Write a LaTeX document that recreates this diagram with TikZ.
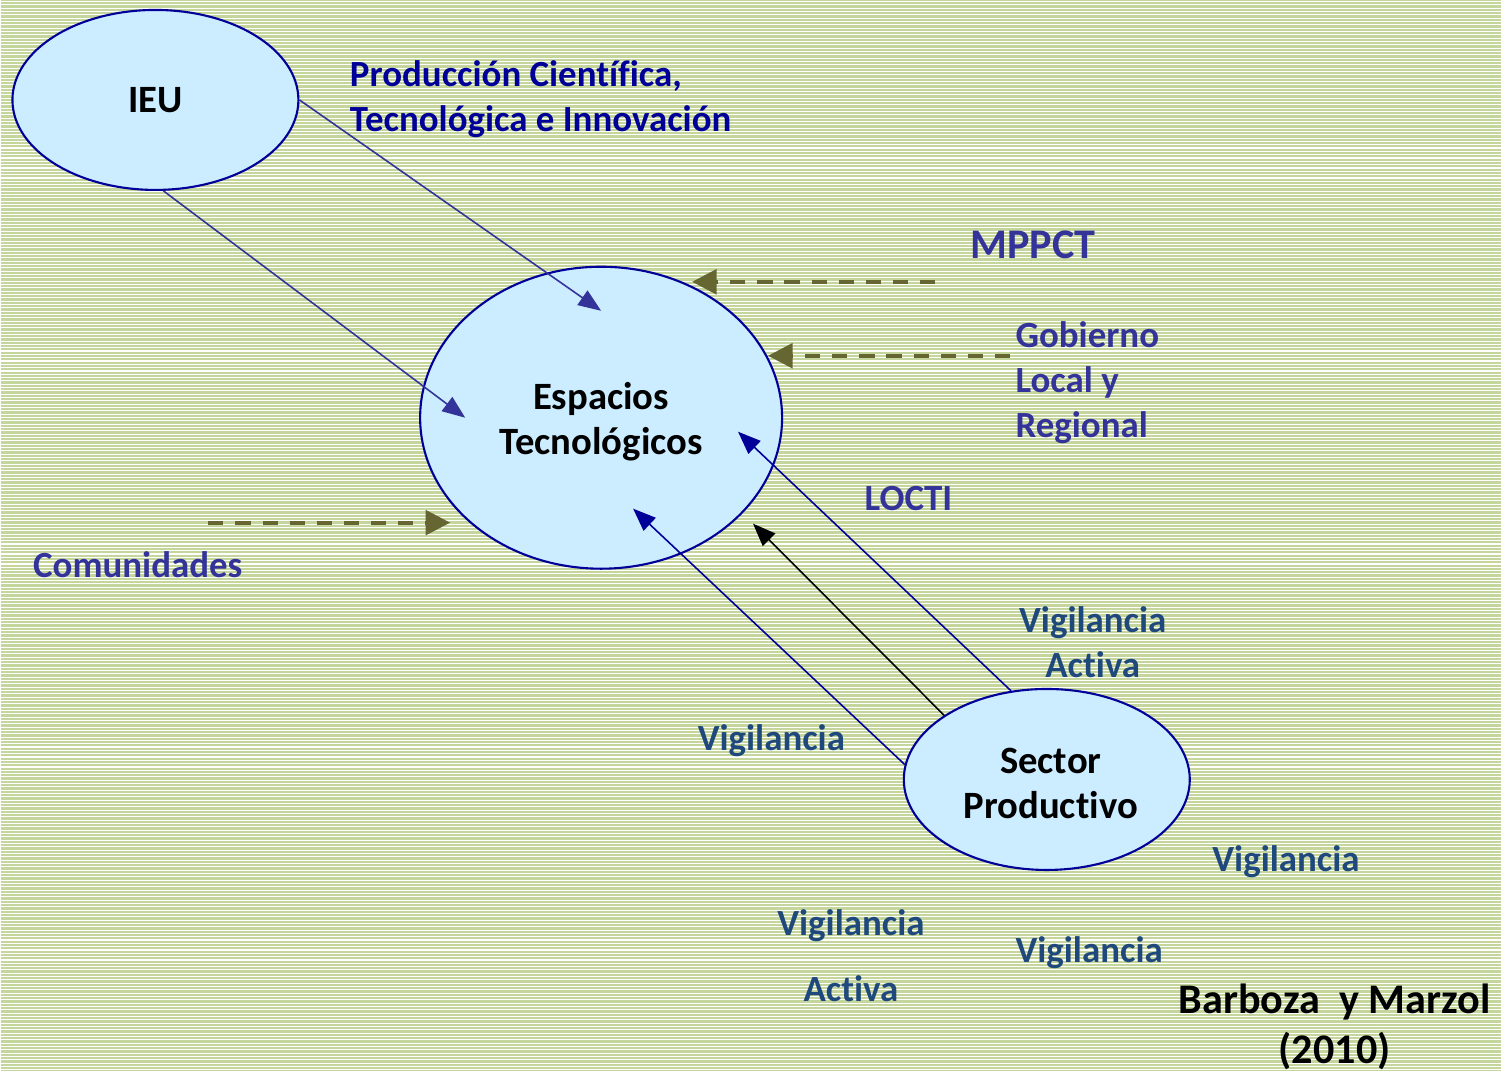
\documentclass[tikz,border=0pt]{standalone}
\usepackage{fontspec}
\setmainfont{Carlito}[Ligatures=NoCommon]
\usetikzlibrary{arrows.meta,shapes.geometric}

\definecolor{bggreen}{HTML}{C4D69B}
\definecolor{bubble}{HTML}{CCECFF}
\definecolor{rim}{HTML}{000099}
\definecolor{labblue}{HTML}{333399}
\definecolor{vigblue}{HTML}{1F497D}
\definecolor{olive}{HTML}{666633}

\begin{document}
\begin{tikzpicture}[x=0.01cm, y=-0.01cm,
  blob/.style={ellipse, draw=rim, line width=0.6pt, fill=bubble, inner sep=0pt, align=center, font=\fontsize{11}{12.8}\selectfont\bfseries},
  lab/.style={anchor=west, inner sep=0pt, text=labblue, align=left, font=\fontsize{10.5}{12.8}\selectfont\bfseries},
  vig/.style={inner sep=0pt, text=vigblue, align=center, font=\fontsize{10.5}{12.8}\selectfont\bfseries},
  link/.style={draw=#1, line width=0.45pt, -{Triangle[length=6.5pt,width=5pt]}},
  feed/.style={draw=olive, line width=1.1pt, dash pattern=on 4.3pt off 3.4pt, -{Triangle[length=7pt,width=7pt]}}]
  % background with thin white stripes
  \fill[bggreen] (0,0) rectangle (1501,1072);
  \foreach \y in {1.6,4.93,...,1072}
    \draw[white, line width=0.3pt] (0,\y) -- (1501,\y);
  \useasboundingbox (0,0) rectangle (1501,1072);

  % ellipses
  \node[blob, minimum width=2.86cm, minimum height=1.80cm] (ieu) at (155,100) {IEU};
  \node[blob, minimum width=3.62cm, minimum height=3.02cm] (esp) at (601,418) {};
  \node[blob, minimum width=2.86cm, minimum height=1.81cm] (sp) at (1047,780) {};
  \node[inner sep=0pt, align=center, font=\fontsize{11}{12.8}\selectfont\bfseries] (esptxt) at (601,422) {Espacios\\Tecnológicos};
  \node[inner sep=0pt, align=center, font=\fontsize{11}{12.8}\selectfont\bfseries] (sptxt) at (1051,784) {Sector\\Productivo};

  % labels
  \node[lab, text=rim] (prod) at (349,99) {Producción Científica,\\Tecnológica e Innovación};
  \node[lab, font=\fontsize{12}{14}\selectfont\bfseries] (mppct) at (970,245) {MPPCT};
  \node[lab] (gob) at (1015,383) {Gobierno\\Local y\\Regional};
  \node[lab] (locti) at (864,499) {LOCTI};
  \node[lab] (com) at (32,565) {Comunidades};
  \node[vig] (va1) at (1093,643) {Vigilancia\\Activa};
  \node[vig, anchor=west] (v1) at (697,741) {Vigilancia};
  \node[vig, anchor=west] (v2) at (1212,862) {Vigilancia};
  \node[vig] (va2) at (851,956) {Vigilancia\\[6pt]Activa};
  \node[vig, anchor=west] (v3) at (1015,953) {Vigilancia};
  \node[inner sep=0pt, align=center, font=\fontsize{12}{14.2}\selectfont\bfseries] (ref) at (1335,1028) {Barboza\ \ y Marzol\\(2010)};

  % free ends
  \coordinate (t1) at (601,311);
  \coordinate (t2) at (465,418);
  \coordinate (t3) at (738,432);
  \coordinate (t4) at (753,524);
  \coordinate (t5) at (633,509);
  \coordinate (m0) at (935,282);
  \coordinate (m1) at (692,282);
  \coordinate (g0) at (1010,356);
  \coordinate (g1) at (768,356);
  \coordinate (c0) at (208,523);
  \coordinate (c1) at (450,523);

  % connectors
  \draw[link=labblue] (ieu.east) -- (t1);
  \draw[link=labblue] (ieu.275) -- (t2);
  \draw[link=rim] (sp.112) -- (t3);
  \draw[link=black] (sp.148) -- (t4);
  \draw[link=rim] (sp.174) -- (t5);
  \draw[feed] (m0) -- (m1);
  \draw[feed] (g0) -- (g1);
  \draw[feed] (c0) -- (c1);
\end{tikzpicture}
\end{document}
